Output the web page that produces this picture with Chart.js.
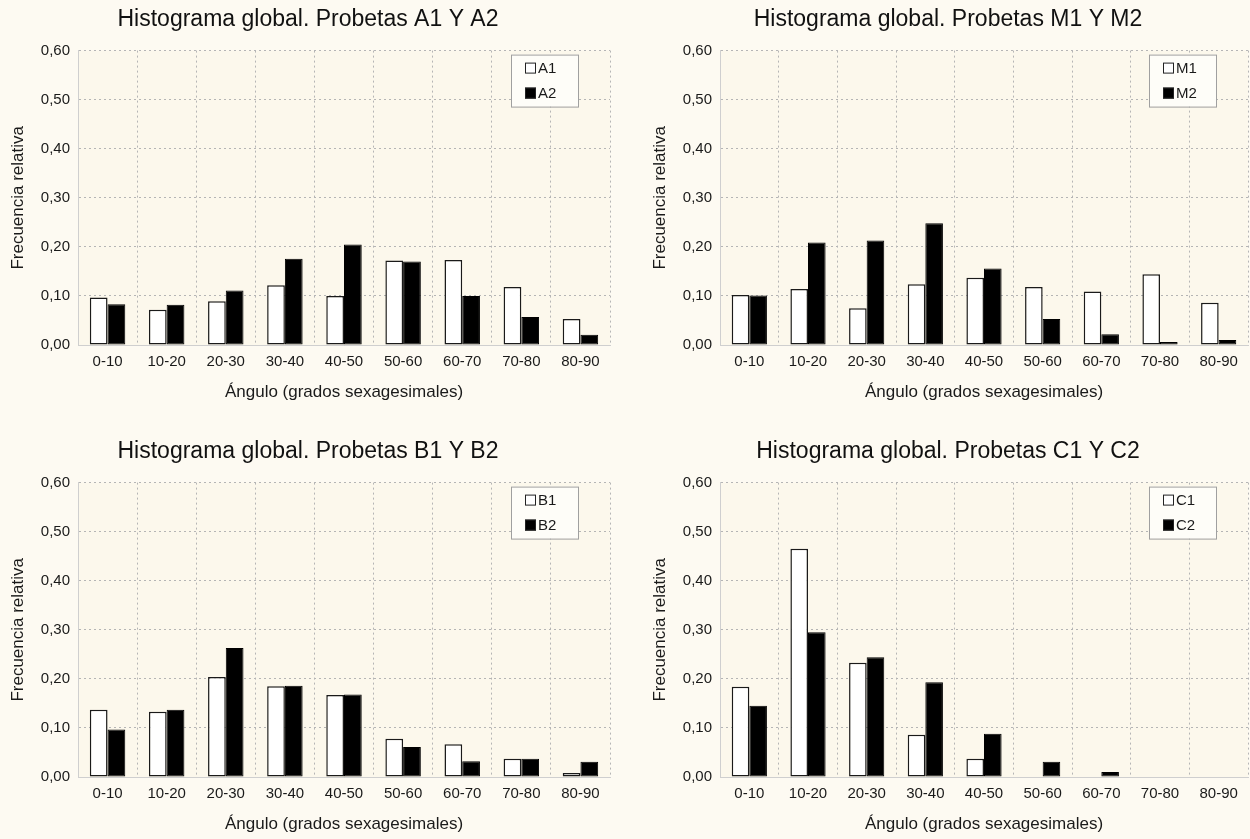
<!DOCTYPE html>
<html lang="es">
<head>
<meta charset="UTF-8">
<title>Histogramas globales</title>
<script src="https://cdn.jsdelivr.net/npm/chart.js"></script>
<style>
  body { margin: 0; background: #fdfaf2; }
  #wrap { position: relative; width: 1250px; height: 839px; overflow: hidden; }
  .panel { position: absolute; width: 625px; height: 407px; }
</style>
</head>
<body>
<div id="wrap">
  <div class="panel" style="left:0;top:0"><canvas id="chartA"></canvas></div>
  <div class="panel" style="left:625px;top:0"><canvas id="chartM"></canvas></div>
  <div class="panel" style="left:0;top:432px"><canvas id="chartB"></canvas></div>
  <div class="panel" style="left:625px;top:432px"><canvas id="chartC"></canvas></div>
</div>
<script>
// categorías (ángulo en grados)
const angulos = ['0-10', '10-20', '20-30', '30-40', '40-50', '50-60', '60-70', '70-80', '80-90'];

// frecuencias relativas
const a1 = [0.097, 0.072, 0.089, 0.122, 0.100, 0.172, 0.173, 0.118, 0.053];
const a2 = [0.083, 0.082, 0.111, 0.176, 0.205, 0.170, 0.100, 0.057, 0.021];

const m1 = [0.102, 0.114, 0.075, 0.124, 0.137, 0.118, 0.109, 0.144, 0.086];
const m2 = [0.101, 0.209, 0.213, 0.248, 0.156, 0.053, 0.022, 0.006, 0.010];

const b1 = [0.137, 0.133, 0.204, 0.185, 0.167, 0.078, 0.067, 0.037, 0.008];
const b2 = [0.097, 0.137, 0.263, 0.186, 0.168, 0.061, 0.032, 0.037, 0.031];

const c1 = [0.184, 0.465, 0.233, 0.086, 0.037, 0, 0, 0, 0];
const c2 = [0.145, 0.295, 0.244, 0.193, 0.088, 0.031, 0.010, 0, 0];

Chart.defaults.font.family = '"Liberation Sans", Arial, sans-serif';
Chart.defaults.color = '#1a1a1a';

// fondo crema del área de trazado
const plotBg = {
    id: 'plotBg',
    beforeDraw(chart) {
        const { ctx, chartArea: a } = chart;
        ctx.save();
        ctx.fillStyle = '#fcf8ec';
        ctx.fillRect(a.left, a.top, a.right - a.left, a.bottom - a.top);
        ctx.restore();
    }
};

// leyenda con recuadro dentro del área de trazado
const boxLegend = {
    id: 'boxLegend',
    afterDraw(chart) {
        const { ctx, chartArea: a } = chart;
        const w = 67, h = 52;
        const x = a.right - 32 - w, y = a.top + 4;
        ctx.save();
        ctx.fillStyle = '#fefdf8';
        ctx.strokeStyle = '#a0a0a0';
        ctx.lineWidth = 1;
        ctx.fillRect(x, y, w, h);
        ctx.strokeRect(x + 0.5, y + 0.5, w, h);
        ctx.font = '15px "Liberation Sans", Arial, sans-serif';
        ctx.textBaseline = 'middle';
        chart.data.datasets.forEach((ds, i) => {
            const cy = y + 13 + i * 25;
            ctx.fillStyle = ds.backgroundColor;
            ctx.fillRect(x + 14, cy - 5, 11, 11);
            ctx.strokeStyle = '#222';
            ctx.strokeRect(x + 14.5, cy - 4.5, 10, 10);
            ctx.fillStyle = '#1a1a1a';
            ctx.fillText(ds.label, x + 27, cy + 1);
        });
        ctx.restore();
    }
};

function makeChart(id, title, names, s1, s2, padLeft, padRight) {
    new Chart(document.getElementById(id), {
        type: 'bar',
        data: {
            labels: angulos,
            datasets: [
                { label: names[0], data: s1, backgroundColor: '#ffffff', borderColor: '#1a1a1a', borderWidth: 1.5, borderSkipped: false },
                { label: names[1], data: s2, backgroundColor: '#000000', borderColor: '#000000', borderWidth: 1, borderSkipped: false }
            ]
        },
        options: {
            responsive: true,
            maintainAspectRatio: false,
            animation: false,
            layout: { padding: { left: padLeft, right: padRight, top: 0, bottom: 0 } },
            datasets: { bar: { categoryPercentage: 0.6, barPercentage: 1.0 } },
            plugins: {
                legend: { display: false },
                tooltip: { enabled: false },
                title: {
                    display: true,
                    text: title,
                    color: '#111',
                    font: { size: 23, weight: 'normal' },
                    padding: { top: 6, bottom: 17 }
                }
            },
            scales: {
                x: {
                    grid: { color: '#b5b5b5', drawTicks: false },
                    border: { display: true, color: '#cfcfcf', dash: [2, 3] },
                    ticks: { padding: 8, maxRotation: 0, font: { size: 15 } },
                    title: {
                        display: true,
                        text: 'Ángulo (grados sexagesimales)',
                        font: { size: 17 },
                        padding: { top: 4, bottom: 4 }
                    },
                    afterFit(scale) { scale.height = 62; }
                },
                y: {
                    min: 0,
                    max: 0.6,
                    grid: { color: '#b5b5b5', drawTicks: false },
                    border: { display: true, color: '#cfcfcf', dash: [2, 3] },
                    ticks: {
                        stepSize: 0.1,
                        padding: 8,
                        font: { size: 15 },
                        callback: v => v.toFixed(2).replace('.', ',')
                    },
                    title: {
                        display: true,
                        text: 'Frecuencia relativa',
                        font: { size: 17 },
                        padding: { top: 2, bottom: 4 }
                    },
                    afterFit(scale) { scale.width = 72; }
                }
            }
        },
        plugins: [plotBg, boxLegend]
    });
}

makeChart('chartA', 'Histograma global. Probetas A1 Y A2', ['A1', 'A2'], a1, a2, 6, 15);
makeChart('chartM', 'Histograma global. Probetas M1 Y M2', ['M1', 'M2'], m1, m2, 23, 2);
makeChart('chartB', 'Histograma global. Probetas B1 Y B2', ['B1', 'B2'], b1, b2, 6, 15);
makeChart('chartC', 'Histograma global. Probetas C1 Y C2', ['C1', 'C2'], c1, c2, 23, 2);
</script>
</body>
</html>
